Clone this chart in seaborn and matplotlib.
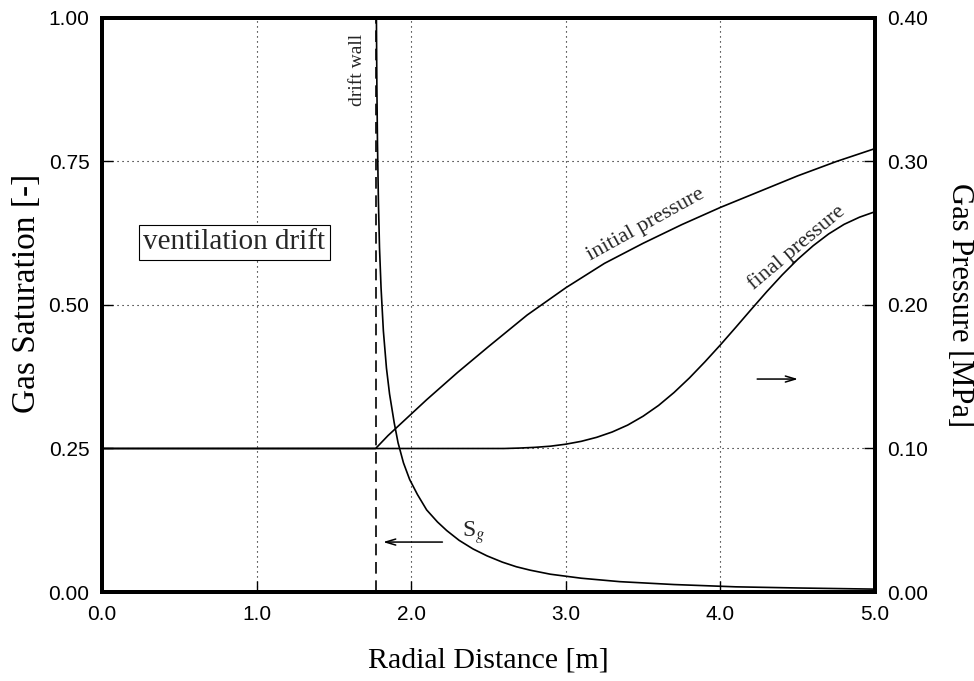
import matplotlib
matplotlib.use("Agg")
import matplotlib.pyplot as plt
import seaborn as sns
from matplotlib.ticker import FormatStrFormatter

# ---------------- data ----------------
wall_x = 1.77

sg_x = [1.775, 1.778, 1.782, 1.788, 1.795, 1.805, 1.82, 1.84, 1.86, 1.89, 1.915, 1.95, 1.99, 2.04,
        2.10, 2.17, 2.23, 2.31, 2.40, 2.49, 2.59, 2.68, 2.77, 2.9, 3.1, 3.35, 3.7, 4.1, 4.5, 5.0]
sg_y = [1.00, 0.88, 0.78, 0.68, 0.60, 0.53, 0.455, 0.39, 0.345, 0.295, 0.26, 0.225, 0.196, 0.170,
        0.143, 0.122, 0.107, 0.090, 0.075, 0.063, 0.052, 0.044, 0.038, 0.031, 0.024, 0.018, 0.013,
        0.009, 0.007, 0.005]

init_x = [0.0, 1.77, 1.85, 1.95, 2.1, 2.3, 2.5, 2.75, 3.0, 3.25, 3.5, 3.75, 4.0, 4.25, 4.5, 4.75, 5.0]
init_p = [0.100, 0.100, 0.109, 0.119, 0.134, 0.153, 0.171, 0.193, 0.212, 0.229, 0.243, 0.256, 0.268,
          0.279, 0.290, 0.300, 0.309]

final_x = [0.0, 1.77, 2.0, 2.3, 2.6, 2.7, 2.8, 2.9, 3.0, 3.1, 3.2, 3.3, 3.4, 3.5, 3.6, 3.7, 3.8, 3.9,
           4.0, 4.1, 4.2, 4.3, 4.4, 4.5, 4.6, 4.7, 4.8, 4.9, 5.0]
final_p = [0.100, 0.100, 0.100, 0.100, 0.1000, 0.1003, 0.1008, 0.1016, 0.1030, 0.1050, 0.1078,
           0.1115, 0.1163, 0.1225, 0.1300, 0.1390, 0.1492, 0.1604, 0.1722, 0.1845, 0.1970, 0.2093,
           0.2210, 0.2318, 0.2413, 0.2495, 0.2562, 0.2612, 0.2650]

x_ticks = [0.0, 1.0, 2.0, 3.0, 4.0, 5.0]
sat_ticks = [0.0, 0.25, 0.50, 0.75, 1.00]
p_ticks = [0.0, 0.10, 0.20, 0.30, 0.40]

sns.set_theme(style="white")
plt.rcParams['font.family'] = ['Liberation Sans', 'DejaVu Sans']
serif = ['Liberation Serif', 'DejaVu Serif']

fig = plt.figure(figsize=(9.74, 6.81), dpi=100)
ax = fig.add_axes([0.10472, 0.13069, 0.79363, 0.84288])
ax2 = ax.twinx()

lw = 1.2
sns.lineplot(x=sg_x, y=sg_y, ax=ax, color='black', lw=lw, estimator=None, sort=False)
sns.lineplot(x=init_x, y=init_p, ax=ax2, color='black', lw=lw, estimator=None, sort=False)
sns.lineplot(x=final_x, y=final_p, ax=ax2, color='black', lw=lw, estimator=None, sort=False)

ax.axvline(wall_x, color='black', lw=1.2, ls=(0, (7, 4)))

ax.set_xlim(0, 5)
ax.set_ylim(0, 1)
ax2.set_ylim(0, 0.4)
ax.set_xticks(x_ticks)
ax.set_yticks(sat_ticks)
ax2.set_yticks(p_ticks)
ax.xaxis.set_major_formatter(FormatStrFormatter('%.1f'))
ax.yaxis.set_major_formatter(FormatStrFormatter('%.2f'))
ax2.yaxis.set_major_formatter(FormatStrFormatter('%.2f'))

ax.grid(True, color='black', lw=0.8, ls=(0, (1, 3.5)))
ax2.grid(False)

for a in (ax, ax2):
    for s in a.spines.values():
        s.set_linewidth(2.8)
        s.set_color('black')

ax.tick_params(axis='both', direction='in', length=8, width=1, colors='black',
               labelsize=15, pad=9, bottom=True, left=True, top=False, right=False)
ax2.tick_params(axis='y', direction='in', length=8, width=1, colors='black',
                labelsize=15, pad=9, right=True)

ax.set_xlabel('Radial Distance [m]', family=serif, fontsize=21.5, labelpad=17, color='black')
ax.set_ylabel('Gas Saturation [-]', family=serif, fontsize=24, color='black')
ax.yaxis.set_label_coords(-0.078, 0.52)
ax2.set_ylabel('Gas Pressure [MPa]', family=serif, fontsize=22, labelpad=12, color='black',
               rotation=270, va='bottom')

# annotations
ax.text(0.855, 0.609, 'ventilation drift', family=serif, fontsize=21, ha='center', va='center',
        bbox=dict(boxstyle='square,pad=0.15', fc='white', ec='black', lw=0.8))
ax.text(1.65, 0.909, 'drift wall', family=serif, fontsize=14, rotation=90, ha='center', va='center')
ax.text(3.517, 0.639, 'initial pressure', family=serif, fontsize=16, rotation=29,
        ha='center', va='center', rotation_mode='anchor')
ax.text(4.494, 0.600, 'final pressure', family=serif, fontsize=16, rotation=40,
        ha='center', va='center', rotation_mode='anchor')
ax.text(2.327, 0.0964, r'S$_g$', family=serif, fontsize=17, ha='left', va='baseline',
        math_fontfamily='stix')

arrow = dict(arrowstyle='->,head_length=0.6,head_width=0.18', color='black', lw=1.1)
ax.annotate('', xy=(1.80, 0.087), xytext=(2.22, 0.087), arrowprops=arrow)
ax.annotate('', xy=(4.52, 0.371), xytext=(4.22, 0.371), arrowprops=arrow)

fig.savefig('out.png', dpi=100)
